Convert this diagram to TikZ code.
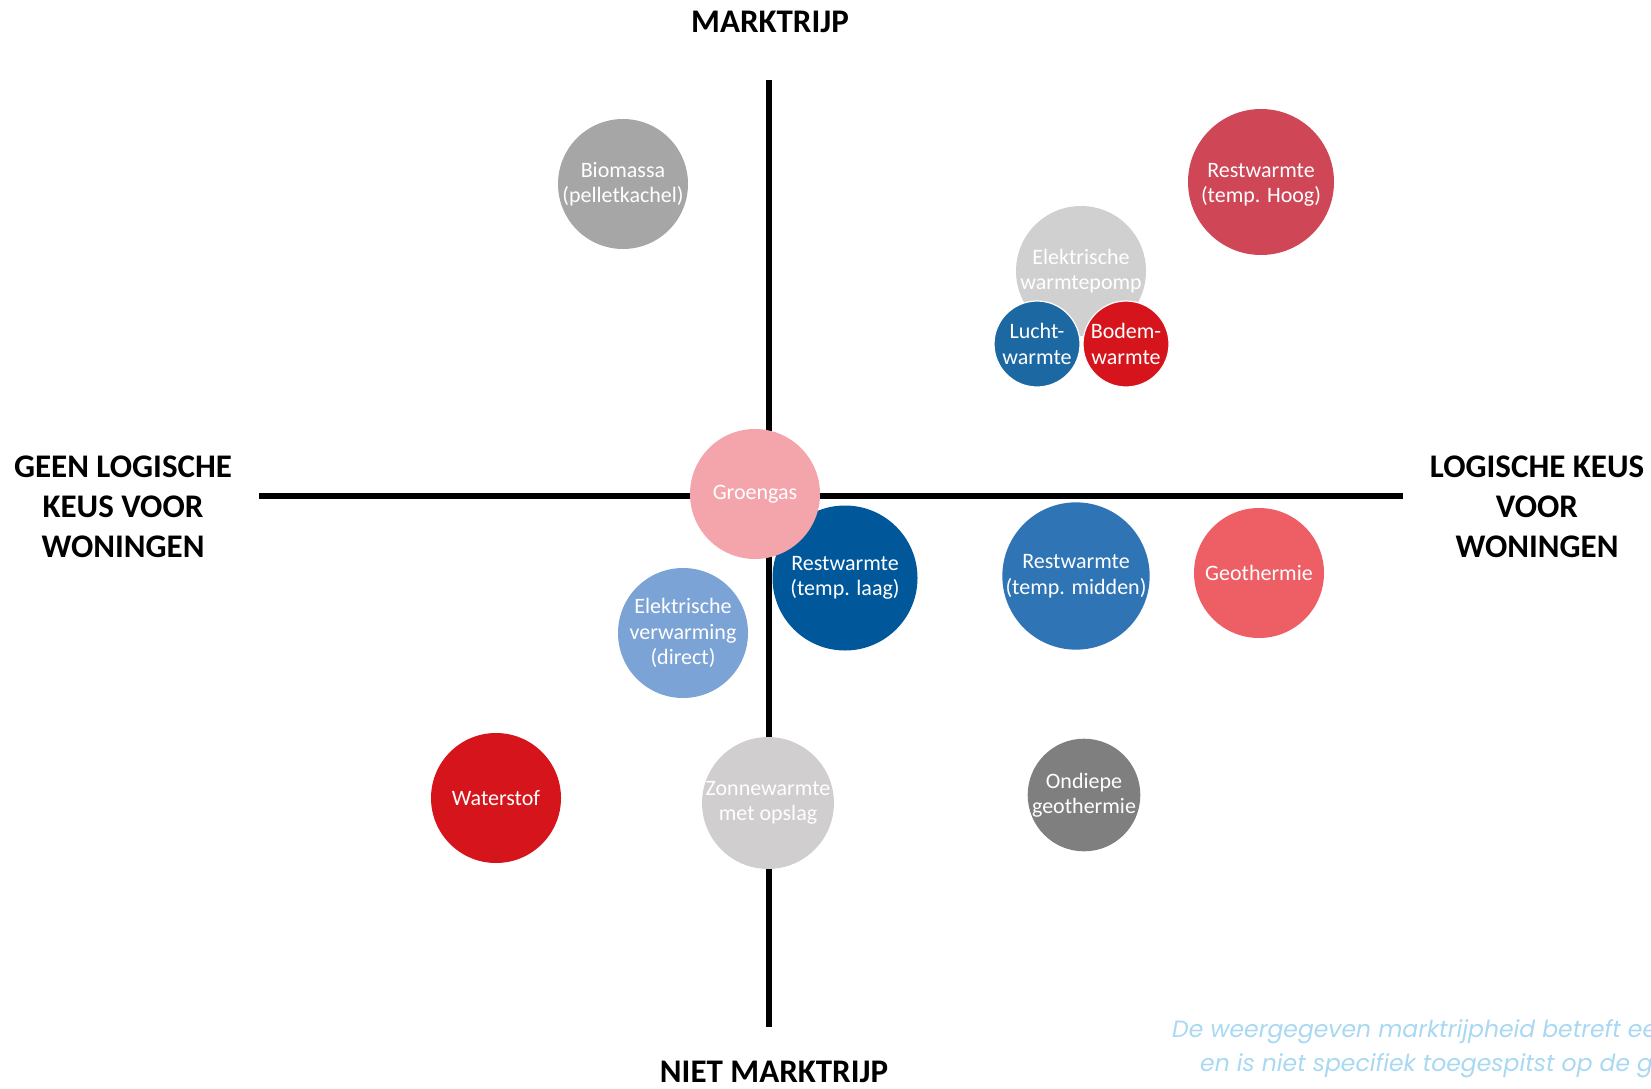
\documentclass[tikz,border=0pt]{standalone}
\usepackage{fontspec}
\setmainfont{Carlito}
\newfontfamily\notefont{Poppins}
\definecolor{cBio}{HTML}{A6A6A6}
\definecolor{cHoog}{HTML}{CF4656}
\definecolor{cWp}{HTML}{D0D0D0}
\definecolor{cLucht}{HTML}{1C68A3}
\definecolor{cRood}{HTML}{D6141B}
\definecolor{cGroen}{HTML}{F4A5AB}
\definecolor{cLaag}{HTML}{00589B}
\definecolor{cMidden}{HTML}{2F74B5}
\definecolor{cGeo}{HTML}{EE5E65}
\definecolor{cVerw}{HTML}{7BA3D5}
\definecolor{cZon}{HTML}{D0CECE}
\definecolor{cOnd}{HTML}{7F7F7F}
\definecolor{cNote}{HTML}{A8D8F2}
\begin{document}
\begin{tikzpicture}[x=1pt,y=-1pt,
  axis/.style={line width=5.5pt,black},
  bubble/.style={circle,inner sep=0pt,text=white,align=center,
    font=\fontsize{22}{25.5}\selectfont},
  smallbubble/.style={bubble,draw=white,line width=1.2pt},
  heading/.style={font=\fontsize{33}{40}\selectfont\bfseries,align=center,text=black},
  note/.style={anchor=west,text=cNote,font=\notefont\itshape\fontsize{23.5}{34}\selectfont,inner sep=0pt}]
\useasboundingbox (0,0) rectangle (1651,1089);
\clip (0,0) rectangle (1651,1089);
% axes
\coordinate (vt) at (769,80);
\coordinate (vb) at (769,1027);
\coordinate (hl) at (259,496);
\coordinate (hr) at (1403,496);
\draw[axis] (vt) -- (vb);
\draw[axis] (hl) -- (hr);
% headings
\node[heading] (top) at (770,22) {MARKTRIJP};
\node[heading] (bottom) at (774,1072) {NIET MARKTRIJP};
\node[heading] (left) at (123,507) {GEEN LOGISCHE\\KEUS VOOR\\WONINGEN};
\node[heading] (right) at (1537,507) {LOGISCHE KEUS\\VOOR\\WONINGEN};
% bubbles
\node[bubble,fill=cBio,minimum size=130pt] (bio) at (623,184) {Biomassa\\(pelletkachel)};
\node[bubble,fill=cHoog,minimum size=146pt] (hoog) at (1261,182) {};
\node[text=white,align=center,font=\fontsize{22}{25.5}\selectfont] (hoogtxt) at (1261,185) {Restwarmte\\(temp. Hoog)};
\node[bubble,fill=cWp,minimum size=130pt] (wp) at (1081,271) {Elektrische\\warmtepomp};
\node[smallbubble,fill=cLucht,minimum size=86pt] (lucht) at (1037,344) {Lucht-\\warmte};
\node[smallbubble,fill=cRood,minimum size=86pt] (bodem) at (1126,344) {Bodem-\\warmte};
\node[bubble,fill=cLaag,minimum size=145pt] (laag) at (845,578) {Restwarmte\\(temp. laag)};
\node[bubble,fill=cGroen,minimum size=130pt] (groen) at (755,494) {Groengas};
\node[bubble,fill=cMidden,minimum size=145pt] (midden) at (1076,576) {Restwarmte\\(temp. midden)};
\node[bubble,fill=cGeo,minimum size=130pt] (geo) at (1259,573) {Geothermie};
\node[bubble,fill=cVerw,minimum size=130pt] (verw) at (683,633) {Elektrische\\verwarming\\(direct)};
\node[bubble,fill=cRood,minimum size=130pt] (water) at (496,798) {Waterstof};
\node[bubble,fill=cZon,minimum size=130pt] (zon) at (768,803) {Zonnewarmte\\met opslag};
\node[bubble,fill=cOnd,minimum size=112pt] (ond) at (1084,795) {Ondiepe\\geothermie};
% note
\node[note] (note1) at (1172,1032) {De weergegeven marktrijpheid betreft een};
\node[note] (note2) at (1200,1066) {en is niet specifiek toegespitst op de ge};
\end{tikzpicture}
\end{document}
